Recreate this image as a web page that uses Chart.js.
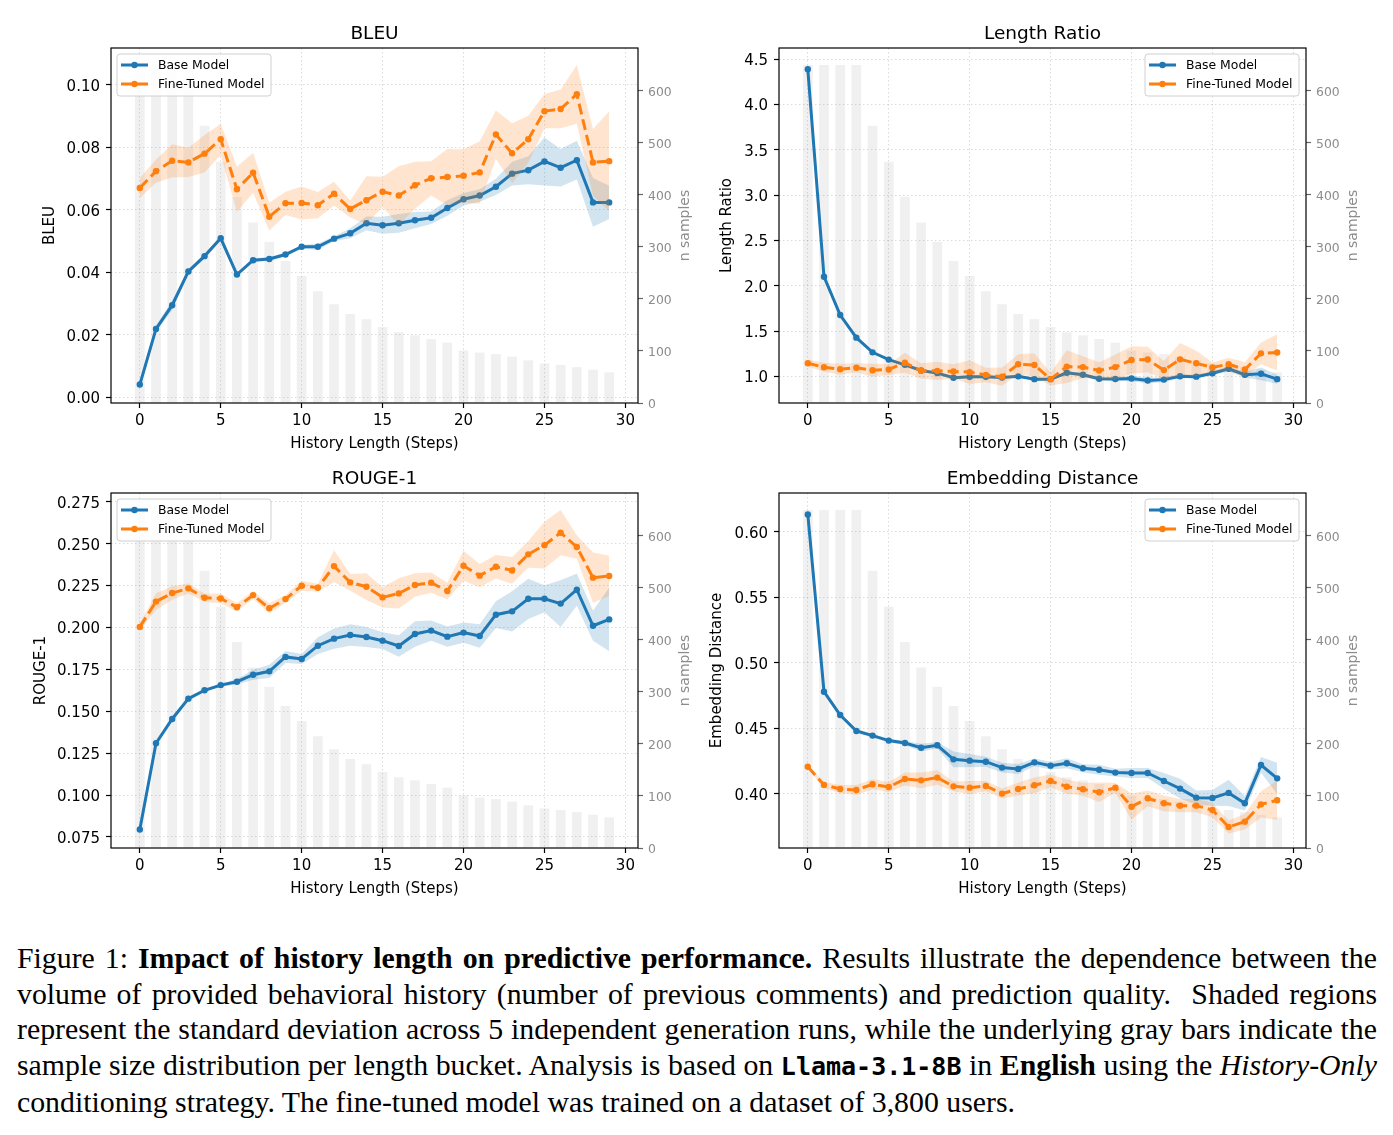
<!DOCTYPE html>
<html>
<head>
<meta charset="utf-8">
<script src="https://cdn.jsdelivr.net/npm/chart.js@4.4.1/dist/chart.umd.min.js"></script>
<style>
  html, body { margin: 0; padding: 0; background: #fff; }
  body { width: 1393px; height: 1135px; position: relative; overflow: hidden; }
  canvas { position: absolute; }
  #caption {
    position: absolute; left: 17px; top: 940px; width: 1360px;
    font-family: "Liberation Serif", "Times New Roman", serif;
    font-size: 29.8px; line-height: 35.5px; color: #000;
  }
  #caption div { text-align: justify; text-align-last: justify; white-space: nowrap; }
  #caption div.last { text-align-last: left; }
  #caption code { font-family: "DejaVu Sans Mono", monospace; font-weight: bold; font-size: 25px; }
</style>
</head>
<body>
<canvas id="bleuChart" width="696" height="460" style="left:0px;top:0px"></canvas>
<canvas id="lengthChart" width="696" height="460" style="left:668px;top:0px"></canvas>
<canvas id="rougeChart" width="696" height="460" style="left:0px;top:445px"></canvas>
<canvas id="embedChart" width="696" height="460" style="left:668px;top:445px"></canvas>

<div id="caption">
  <div>Figure 1: <b>Impact of history length on predictive performance.</b> Results illustrate the dependence between the</div>
  <div>volume of provided behavioral history (number of previous comments) and prediction quality.&nbsp; Shaded regions</div>
  <div>represent the standard deviation across 5 independent generation runs, while the underlying gray bars indicate the</div>
  <div>sample size distribution per length bucket. Analysis is based on <code>Llama-3.1-8B</code> in <b>English</b> using the <i>History-Only</i></div>
  <div class="last">conditioning strategy. The fine-tuned model was trained on a dataset of 3,800 users.</div>
</div>

<script>
const steps = [0,1,2,3,4,5,6,7,8,9,10,11,12,13,14,15,16,17,18,19,20,21,22,23,24,25,26,27,28,29];
const nSamples = [650,650,650,650,533,464,396,347,310,273,244,215,190,171,161,146,136,130,123,116,101,97,94,89,82,76,73,69,64,59];

const xTicks = [0,5,10,15,20,25,30];
const sampleTicks = [0,100,200,300,400,500,600];

// BLEU
const bleuBase    = [0.0041,0.0219,0.0295,0.0403,0.0452,0.0509,0.0393,0.0439,0.0443,0.0457,0.0482,0.0482,0.0508,0.0525,0.0557,0.0551,0.0557,0.0567,0.0575,0.0606,0.0634,0.0646,0.0674,0.0716,0.0727,0.0755,0.0735,0.0759,0.0624,0.0624];
const bleuBaseStd = [0.0005,0.0010,0.0015,0.0008,0.0008,0.0005,0.0005,0.0006,0.0006,0.0006,0.0006,0.0010,0.0008,0.0016,0.0022,0.0027,0.0030,0.0026,0.0020,0.0025,0.0020,0.0020,0.0026,0.0038,0.0045,0.0077,0.0060,0.0062,0.0078,0.0053];
const bleuFt      = [0.0670,0.0724,0.0757,0.0752,0.0780,0.0826,0.0666,0.0719,0.0578,0.0621,0.0622,0.0615,0.0652,0.0603,0.0631,0.0658,0.0646,0.0679,0.0701,0.0705,0.0709,0.0720,0.0841,0.0781,0.0826,0.0916,0.0923,0.0970,0.0752,0.0756];
const bleuFtStd   = [0.0032,0.0037,0.0053,0.0047,0.0060,0.0050,0.0072,0.0064,0.0045,0.0037,0.0053,0.0042,0.0038,0.0027,0.0077,0.0048,0.0094,0.0075,0.0055,0.0090,0.0085,0.0100,0.0077,0.0096,0.0075,0.0055,0.0062,0.0094,0.0107,0.0160];
const bleuTicks = [0.00,0.02,0.04,0.06,0.08,0.10];

// Length Ratio
const lengthBase    = [4.389,2.100,1.677,1.427,1.265,1.185,1.127,1.065,1.036,0.985,0.995,0.995,0.987,1.000,0.969,0.969,1.040,1.017,0.973,0.971,0.977,0.955,0.964,1.002,0.997,1.035,1.084,1.018,1.028,0.969];
const lengthBaseStd = [0.010,0.010,0.010,0.010,0.010,0.010,0.012,0.015,0.015,0.015,0.015,0.015,0.015,0.015,0.015,0.015,0.020,0.020,0.020,0.020,0.030,0.030,0.030,0.020,0.020,0.020,0.030,0.030,0.070,0.050];
const lengthFt      = [1.145,1.100,1.078,1.095,1.068,1.076,1.150,1.061,1.061,1.054,1.047,1.016,0.997,1.133,1.126,0.969,1.108,1.102,1.065,1.102,1.181,1.186,1.069,1.188,1.144,1.098,1.135,1.075,1.254,1.264];
const lengthFtStd   = [0.040,0.050,0.060,0.050,0.070,0.060,0.110,0.085,0.100,0.080,0.130,0.080,0.100,0.110,0.130,0.070,0.180,0.120,0.090,0.140,0.150,0.140,0.100,0.180,0.140,0.055,0.070,0.080,0.120,0.200];
const lengthTicks = [1.0,1.5,2.0,2.5,3.0,3.5,4.0,4.5];

// ROUGE-1
const rougeBase    = [0.0794,0.1309,0.1454,0.1575,0.1625,0.1656,0.1676,0.1718,0.1738,0.1824,0.1812,0.1891,0.1933,0.1955,0.1943,0.1921,0.1889,0.1961,0.1981,0.1945,0.1969,0.1949,0.2076,0.2096,0.2171,0.2171,0.2142,0.2225,0.2010,0.2048];
const rougeBaseStd = [0.0006,0.0016,0.0016,0.0012,0.0010,0.0010,0.0016,0.0030,0.0040,0.0036,0.0030,0.0050,0.0060,0.0064,0.0060,0.0050,0.0064,0.0076,0.0060,0.0060,0.0060,0.0070,0.0080,0.0120,0.0120,0.0080,0.0140,0.0096,0.0090,0.0190];
const rougeFt      = [0.2003,0.2154,0.2205,0.2233,0.2177,0.2173,0.2120,0.2193,0.2114,0.2169,0.2249,0.2237,0.2366,0.2269,0.2243,0.2179,0.2203,0.2253,0.2267,0.2217,0.2368,0.2309,0.2362,0.2340,0.2436,0.2491,0.2565,0.2480,0.2297,0.2307];
const rougeFtStd   = [0.0020,0.0050,0.0040,0.0030,0.0024,0.0030,0.0024,0.0024,0.0030,0.0024,0.0030,0.0024,0.0095,0.0050,0.0080,0.0060,0.0090,0.0070,0.0060,0.0050,0.0090,0.0070,0.0070,0.0080,0.0080,0.0140,0.0135,0.0070,0.0150,0.0120];
const rougeTicks = [0.075,0.100,0.125,0.150,0.175,0.200,0.225,0.250,0.275];

// Embedding Distance
const embedBase    = [0.6132,0.4780,0.4602,0.4480,0.4445,0.4407,0.4389,0.4353,0.4371,0.4264,0.4254,0.4246,0.4201,0.4191,0.4241,0.4216,0.4234,0.4196,0.4185,0.4163,0.4160,0.4160,0.4099,0.4041,0.3972,0.3970,0.4008,0.3929,0.4221,0.4119];
const embedBaseStd = [0.0008,0.0013,0.0013,0.0015,0.0015,0.0015,0.0015,0.0030,0.0025,0.0060,0.0050,0.0038,0.0038,0.0038,0.0030,0.0030,0.0038,0.0030,0.0038,0.0030,0.0038,0.0038,0.0060,0.0075,0.0055,0.0060,0.0100,0.0055,0.0060,0.0120];
const embedFt      = [0.4208,0.4069,0.4038,0.4030,0.4074,0.4053,0.4114,0.4104,0.4125,0.4058,0.4048,0.4061,0.4003,0.4038,0.4066,0.4099,0.4056,0.4036,0.4013,0.4048,0.3903,0.3967,0.3929,0.3911,0.3911,0.3878,0.3748,0.3789,0.3921,0.3952];
const embedFtStd   = [0.0013,0.0025,0.0030,0.0038,0.0038,0.0038,0.0050,0.0060,0.0055,0.0038,0.0050,0.0038,0.0038,0.0050,0.0060,0.0050,0.0055,0.0050,0.0075,0.0038,0.0100,0.0060,0.0060,0.0050,0.0050,0.0055,0.0050,0.0060,0.0100,0.0150];
const embedTicks = [0.40,0.45,0.50,0.55,0.60];

const BLUE = "#1f77b4";
const ORANGE = "#ff7f0e";
const FONT = "DejaVu Sans";

// frame, title, right axis title and matplotlib-like legend
const panelDecor = {
    id: "panelDecor",
    afterDraw(chart, args, opts) {
        const { ctx, chartArea: a } = chart;
        ctx.save();

        ctx.strokeStyle = "#000";
        ctx.lineWidth = 1.2;
        ctx.strokeRect(a.left, a.top, a.right - a.left, a.bottom - a.top);

        ctx.fillStyle = "#000";
        ctx.font = `18.5px "${FONT}"`;
        ctx.textAlign = "center";
        ctx.textBaseline = "alphabetic";
        ctx.fillText(opts.title, (a.left + a.right) / 2, a.top - 9);

        ctx.save();
        ctx.translate(a.right + 47, (a.top + a.bottom) / 2);
        ctx.rotate(-Math.PI / 2);
        ctx.fillStyle = "#8c8c8c";
        ctx.font = `14px "${FONT}"`;
        ctx.textBaseline = "middle";
        ctx.fillText("n samples", 0, 0);
        ctx.restore();

        const w = 154, h = 42;
        const lx = opts.legendSide === "left" ? a.left + 6 : a.right - 7 - w;
        const ly = a.top + 6;
        ctx.beginPath();
        ctx.roundRect(lx, ly, w, h, 3);
        ctx.fillStyle = "rgba(255,255,255,0.85)";
        ctx.fill();
        ctx.strokeStyle = "#d0d0d0";
        ctx.lineWidth = 1;
        ctx.stroke();

        const entries = [
            { label: "Base Model", color: BLUE, dash: [] },
            { label: "Fine-Tuned Model", color: ORANGE, dash: [11, 5] }
        ];
        entries.forEach((e, i) => {
            const y = ly + 11 + i * 19;
            ctx.beginPath();
            ctx.setLineDash(e.dash);
            ctx.strokeStyle = e.color;
            ctx.lineWidth = 3;
            ctx.moveTo(lx + 4, y);
            ctx.lineTo(lx + 31, y);
            ctx.stroke();
            ctx.setLineDash([]);
            ctx.beginPath();
            ctx.arc(lx + 17.5, y, 3.2, 0, Math.PI * 2);
            ctx.fillStyle = e.color;
            ctx.fill();
            ctx.fillStyle = "#000";
            ctx.font = `12.4px "${FONT}"`;
            ctx.textAlign = "left";
            ctx.textBaseline = "middle";
            ctx.fillText(e.label, lx + 41, y + 1);
        });
        ctx.restore();
    }
};

function pts(values) {
    return steps.map((s, i) => ({ x: s, y: values[i] }));
}

function band(mean, std, sign) {
    return steps.map((s, i) => ({ x: s, y: mean[i] + sign * std[i] }));
}

function makePanel(id, p) {
    const grid = {
        color: "rgba(0,0,0,0.16)",
        lineWidth: 0.9,
        tickLength: 5,
        tickColor: "#000",
        tickWidth: 1.2
    };
    new Chart(document.getElementById(id), {
        type: "line",
        data: {
            datasets: [
                {
                    type: "bar", yAxisID: "y2", data: pts(nSamples),
                    backgroundColor: "rgba(128,128,128,0.12)",
                    barPercentage: 1, categoryPercentage: 0.6, order: 10
                },
                {
                    data: band(p.base, p.baseStd, 1), fill: "+1",
                    backgroundColor: "rgba(31,119,180,0.2)", borderWidth: 0, pointRadius: 0, order: 6
                },
                {
                    data: band(p.base, p.baseStd, -1), fill: false,
                    borderWidth: 0, pointRadius: 0, order: 6
                },
                {
                    label: "Base Model", data: pts(p.base),
                    borderColor: BLUE, backgroundColor: BLUE, borderWidth: 3,
                    pointRadius: 3.2, pointBorderWidth: 0, order: 4
                },
                {
                    data: band(p.ft, p.ftStd, 1), fill: "+1",
                    backgroundColor: "rgba(255,127,14,0.2)", borderWidth: 0, pointRadius: 0, order: 3
                },
                {
                    data: band(p.ft, p.ftStd, -1), fill: false,
                    borderWidth: 0, pointRadius: 0, order: 3
                },
                {
                    label: "Fine-Tuned Model", data: pts(p.ft),
                    borderColor: ORANGE, backgroundColor: ORANGE, borderWidth: 3, borderDash: [11, 5],
                    pointRadius: 3.2, pointBorderWidth: 0, order: 1
                }
            ]
        },
        options: {
            responsive: false,
            animation: false,
            layout: { padding: { top: 48, left: 0, right: 0, bottom: 0 } },
            scales: {
                x: {
                    type: "linear", min: -1.78, max: 30.78, offset: false,
                    afterBuildTicks: (s) => { s.ticks = xTicks.map(v => ({ value: v })); },
                    afterFit: (s) => { s.height = 57; },
                    ticks: { font: { family: FONT, size: 15 }, color: "#000", padding: 4, maxRotation: 0, autoSkip: false },
                    grid: { ...grid, offset: false },
                    border: { display: false, dash: [1.5, 2.5] },
                    title: { display: true, text: "History Length (Steps)", color: "#000",
                             font: { family: FONT, size: 15 }, padding: { top: 0, bottom: 7 } }
                },
                y: {
                    position: "left", min: p.min, max: p.max,
                    afterBuildTicks: (s) => { s.ticks = p.ticks.map(v => ({ value: v })); },
                    afterFit: (s) => { s.width = 111; },
                    ticks: { font: { family: FONT, size: 15 }, color: "#000", padding: 6, labelOffset: 2,
                             callback: (v) => Number(v).toFixed(p.decimals) },
                    grid: grid,
                    border: { display: false, dash: [1.5, 2.5] },
                    title: { display: true, text: p.label, color: "#000",
                             font: { family: FONT, size: 15 }, padding: { top: p.labelX - 9, bottom: 0 } }
                },
                y2: {
                    position: "right", min: 0, max: 682.5,
                    afterBuildTicks: (s) => { s.ticks = sampleTicks.map(v => ({ value: v })); },
                    afterFit: (s) => { s.width = 58; },
                    ticks: { font: { family: FONT, size: 12.4 }, color: "#8c8c8c", padding: 5, labelOffset: 1.5 },
                    grid: { drawOnChartArea: false, tickLength: 5, tickColor: "#666", tickWidth: 1.2 },
                    border: { display: false }
                }
            },
            plugins: {
                legend: { display: false },
                tooltip: { enabled: false },
                panelDecor: { title: p.title, legendSide: p.legendSide }
            }
        },
        plugins: [panelDecor]
    });
}

makePanel("bleuChart", {
    title: "BLEU", label: "BLEU", labelX: 50, legendSide: "left",
    base: bleuBase, baseStd: bleuBaseStd, ft: bleuFt, ftStd: bleuFtStd,
    min: -0.0018, max: 0.1118, ticks: bleuTicks, decimals: 2
});
makePanel("lengthChart", {
    title: "Length Ratio", label: "Length Ratio", labelX: 59, legendSide: "right",
    base: lengthBase, baseStd: lengthBaseStd, ft: lengthFt, ftStd: lengthFtStd,
    min: 0.706, max: 4.624, ticks: lengthTicks, decimals: 1
});
makePanel("rougeChart", {
    title: "ROUGE-1", label: "ROUGE-1", labelX: 41, legendSide: "left",
    base: rougeBase, baseStd: rougeBaseStd, ft: rougeFt, ftStd: rougeFtStd,
    min: 0.0684, max: 0.2802, ticks: rougeTicks, decimals: 3
});
makePanel("embedChart", {
    title: "Embedding Distance", label: "Embedding Distance", labelX: 49, legendSide: "right",
    base: embedBase, baseStd: embedBaseStd, ft: embedFt, ftStd: embedFtStd,
    min: 0.3588, max: 0.6295, ticks: embedTicks, decimals: 2
});
</script>
</body>
</html>
